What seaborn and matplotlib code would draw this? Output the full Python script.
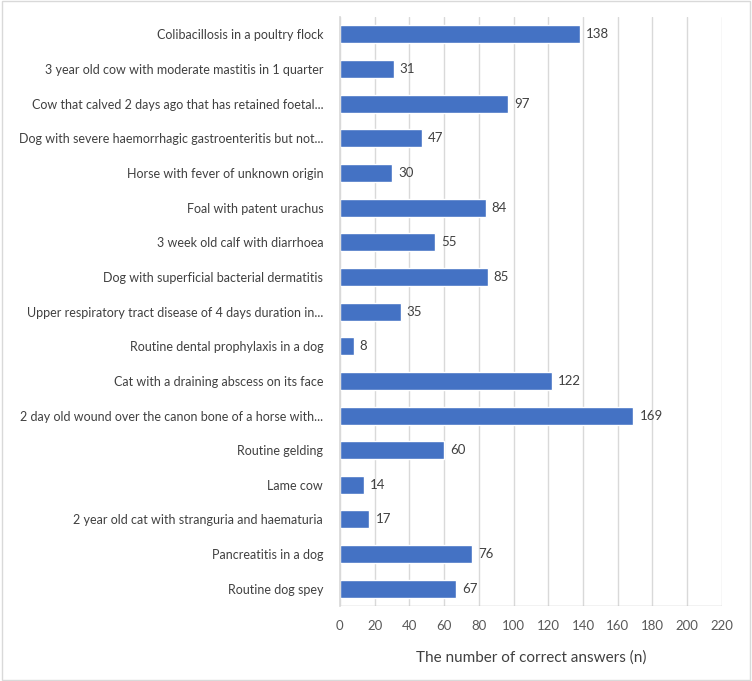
import pandas as pd
import numpy as np
import matplotlib
matplotlib.use('Agg')
import matplotlib.pyplot as plt
import seaborn as sns

cases = [
    'Colibacillosis in a poultry flock',
    '3 year old cow with moderate mastitis in 1 quarter',
    'Cow that calved 2 days ago that has retained foetal...',
    'Dog with severe haemorrhagic gastroenteritis but not...',
    'Horse with fever of unknown origin',
    'Foal with patent urachus',
    '3 week old calf with diarrhoea',
    'Dog with superficial bacterial dermatitis',
    'Upper respiratory tract disease of 4 days duration in...',
    'Routine dental prophylaxis in a dog',
    'Cat with a draining abscess on its face',
    '2 day old wound over the canon bone of a horse with...',
    'Routine gelding',
    'Lame cow',
    '2 year old cat with stranguria and haematuria',
    'Pancreatitis in a dog',
    'Routine dog spey',
]
correct = [138, 31, 97, 47, 30, 84, 55, 85, 35, 8, 122, 169, 60, 14, 17, 76, 67]
xticks = list(range(0, 221, 20))

df = pd.DataFrame({'case': cases, 'n': correct})

sns.set_theme(style='white')
plt.rcParams['font.family'] = ['Lato', 'DejaVu Sans']
txt = '#595959'

fig = plt.figure(figsize=(7.52, 6.81), dpi=100)
ax = fig.add_axes([0.452, 0.110, 0.508, 0.865])

ax.set_axisbelow(True)
ax.grid(True, axis='x', color='#D9D9D9', linewidth=1)
sns.barplot(data=df, x='n', y='case', color='#4472C4', saturation=1,
            width=0.52, ax=ax)

for i, v in enumerate(correct):
    ax.text(v + 3.5, i, str(v), va='center', ha='left', fontsize=9.5, color='#404040')

ax.set_xlim(0, 220)
ax.set_xticks(xticks)
ax.set_xticklabels([str(t) for t in xticks], fontsize=9.5, color=txt)
ax.tick_params(axis='y', labelsize=9, labelcolor='#404040', length=0, pad=12)
ax.tick_params(axis='x', length=0, pad=10)
ax.set_ylabel('')
ax.set_xlabel('The number of correct answers (n)', fontsize=11, color='#404040', labelpad=13)
for s in ['top', 'right', 'bottom']:
    ax.spines[s].set_visible(False)
ax.spines['left'].set_color('#D9D9D9')
ax.axhline(len(cases) - 0.5, color='#BFBFBF', linewidth=1)

fig.patches.append(plt.Rectangle((0.002, 0.002), 0.996, 0.996, transform=fig.transFigure,
                                 fill=False, edgecolor='#D9D9D9', linewidth=1))

fig.savefig('out.png', dpi=100)
